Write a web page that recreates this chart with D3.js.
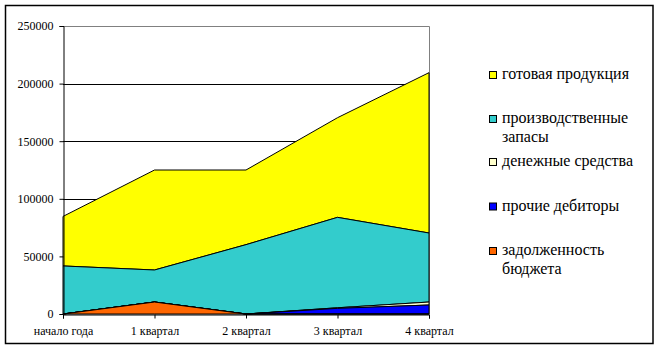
<!DOCTYPE html>
<html><head><meta charset="utf-8">
<script src="https://cdn.jsdelivr.net/npm/d3@7"></script>
<style>body{margin:0;background:#fff}svg{display:block}</style>
</head><body><svg id="c" width="659" height="352"></svg>
<script>
const categories = ["начало года","1 квартал","2 квартал","3 квартал","4 квартал"];
const seriesNames = ["задолженность бюджета","прочие дебиторы","денежные средства","производственные запасы","готовая продукция"];
const budget   = [0, 10400, 0, 0, 0];
const debtors  = [0, 0, 0, 4900, 7800];
const cash     = [0, 0, 0, 500, 2600];
const stocks   = [41700, 27800, 60200, 78500, 59900];
const finished = [43000, 86800, 64800, 86500, 139200];
const yTicks = [0,50000,100000,150000,200000,250000];
const colors = ["#FF6600","#0000FF","#FFFFCC","#33CCCC","#FFFF00"];
const FONT = "'Liberation Serif', 'Times New Roman', serif";

const svg = d3.select("#c");
const x0=63, x1=429, yb=314, yt=26;
svg.append("rect").attr("x",5.5).attr("y",5.5).attr("width",647.5).attr("height",338).attr("fill","none").attr("stroke","#000").attr("stroke-width",1.5);

const x = d3.scalePoint().domain(categories).range([x0,x1]);
const y = d3.scaleLinear().domain([0,250000]).range([yb,yt]);

const rows = categories.map((c,i)=>({cat:c, s0:budget[i], s1:debtors[i], s2:cash[i], s3:stocks[i], s4:finished[i]}));
const stack = d3.stack().keys(["s0","s1","s2","s3","s4"]);
const layers = stack(rows);

// plot area border (gray) on top and right
svg.append("path").attr("d",`M${x0},${yt+0.5}H${x1+0.5}V${yb}`).attr("fill","none").attr("stroke","#808080");

svg.append("g").selectAll("line").data(yTicks.filter(d=>d>0 && d<250000)).join("line")
  .attr("x1",x0).attr("x2",x1).attr("y1",d=>Math.round(y(d))+0.5).attr("y2",d=>Math.round(y(d))+0.5)
  .attr("stroke","#000").attr("stroke-width",1);

const area = d3.area().x(d=>x(d.data.cat)).y0(d=>y(d[0])).y1(d=>y(d[1]));
svg.append("g").selectAll("path").data(layers.slice().reverse()).join("path")
  .attr("d",area).attr("fill",d=>colors[d.index]).attr("stroke","#000").attr("stroke-width",1);

const ya = svg.append("g").attr("transform",`translate(${x0+0.5},0)`)
  .call(d3.axisLeft(y).tickValues(yTicks).tickFormat(d3.format("d")).tickSize(4).tickPadding(6));
ya.attr("font-family",FONT).attr("font-size",12);
ya.select(".domain").attr("stroke","#000");
ya.selectAll("text").attr("fill","#000");
ya.selectAll("line").attr("stroke","#000");

const xa = svg.append("g").attr("transform",`translate(0,${yb+0.5})`)
  .call(d3.axisBottom(x).tickSize(4).tickPadding(8));
xa.attr("font-family",FONT).attr("font-size",12);
xa.select(".domain").attr("stroke","#000");
xa.selectAll("text").attr("fill","#000");
xa.selectAll("line").attr("stroke","#000");

const legend = [
  {i:4, lines:["готовая продукция"], y:75},
  {i:3, lines:["производственные","запасы"], y:119},
  {i:2, lines:["денежные средства"], y:162},
  {i:1, lines:["прочие дебиторы"], y:206.5},
  {i:0, lines:["задолженность","бюджета"], y:251}
];
const lg = svg.append("g").attr("font-family",FONT).attr("font-size",16);
legend.forEach(l=>{
  lg.append("rect").attr("x",489.5).attr("y",l.y-3.5).attr("width",7).attr("height",7)
    .attr("fill",colors[l.i]).attr("stroke","#000").attr("stroke-width",1);
  l.lines.forEach((t,k)=>{
    lg.append("text").attr("x",502).attr("y",l.y+k*18.5+4).attr("fill","#000").text(t);
  });
});
</script></body></html>
